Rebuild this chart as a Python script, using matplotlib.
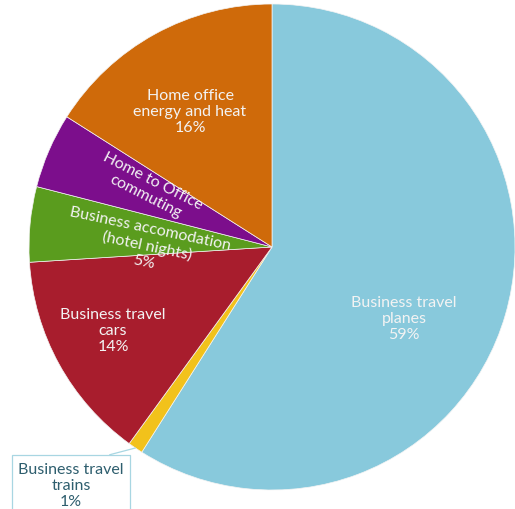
import numpy as np
import matplotlib
matplotlib.use("Agg")
import matplotlib.pyplot as plt

plt.rcParams['font.family'] = ['Lato', 'DejaVu Sans']

# ---------- Data ----------
categories = [
    "Business travel\nplanes",
    "Business travel\ntrains",
    "Business travel\ncars",
    "Business accomodation\n(hotel nights)",
    "Home to Office\ncommuting",
    "Home office\nenergy and heat",
]
shares = [59, 1, 14, 5, 5, 16]
show_pct = [True, True, True, True, False, True]
colors = ["#88C9DC", "#F2C21B", "#A81D2D", "#5A9C1E", "#7C0E8C", "#CF6A0A"]

# ---------- Figure in pixel units ----------
W, H = 515, 510
fig = plt.figure(figsize=(W / 100, H / 100), dpi=100)
ax = fig.add_axes([0, 0, 1, 1])

cx, cy, R = 272, 262, 243
wedges, _ = ax.pie(shares, colors=colors, startangle=90, counterclock=False,
                   center=(cx, cy), radius=R, frame=True,
                   wedgeprops=dict(edgecolor="#f4f4f4", linewidth=0.5))
ax.set_xlim(0, W)
ax.set_ylim(0, H)
ax.set_aspect("equal")
ax.axis("off")


def label_text(i):
    t = categories[i]
    if show_pct[i]:
        t += f"\n{shares[i]}%"
    return t


FS = 11.5
LS = 1.22

# in-slice labels: (x, y, rotation)
inside = {
    0: (404, 191, 0),
    2: (113, 179, 0),
    3: (147, 264, -12),
    4: (149, 321, -27),
    5: (190, 398, 0),
}
for i, (x, y, rot) in inside.items():
    ax.text(x, y, label_text(i), ha="center", va="center", rotation=rot,
            rotation_mode="anchor", fontsize=FS, color="#f3f3f3",
            linespacing=LS)

# trains label sits outside with a leader line
th = np.deg2rad(90 - 3.6 * (shares[0] + shares[1] / 2))
tip = (cx + R * np.cos(th), cy + R * np.sin(th))
ax.annotate(label_text(1), xy=tip, xytext=(71, 24), ha="center", va="center",
            fontsize=FS, color="#2E5E6E", linespacing=LS,
            bbox=dict(boxstyle="square,pad=0.4", fc="white", ec="#A8D6E2", lw=0.9),
            arrowprops=dict(arrowstyle="-", color="#A8D6E2", lw=0.9,
                            shrinkA=0, shrinkB=0, relpos=(0.62, 1.0)))

fig.savefig("out.png", dpi=100)
